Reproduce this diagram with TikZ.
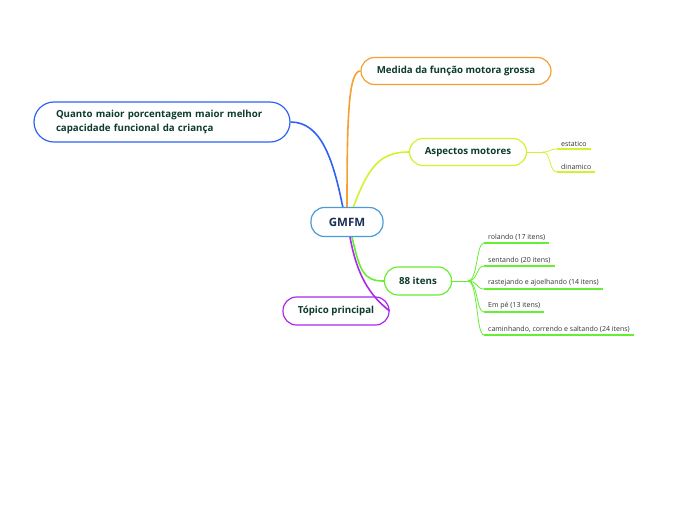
\documentclass[tikz,border=0pt]{standalone}
\usepackage{fontspec}
\setmainfont{Open Sans}
\begin{document}
\begin{tikzpicture}[x=1pt, y=-1pt,
    topic/.style={draw, fill=white, rounded corners=13.5pt, line width=1.2pt, minimum height=27pt, inner xsep=14pt, text=textColour, font=\bfseries\fontsize{9.7}{11}\selectfont},
    link/.style={line width=1.6pt},
    sublink/.style={line width=0.8pt},
    leaf/.style={anchor=south west, inner xsep=4pt, inner ysep=2.5pt, text=leafColour, font=\fontsize{7}{8}\selectfont}]

    \definecolor{textColour}{HTML}{0D3B2E}
    \definecolor{gmfmText}{HTML}{1A2E55}
    \definecolor{leafColour}{HTML}{333333}
    \definecolor{gmfmColour}{HTML}{4A9BD8}
    \definecolor{blueColour}{HTML}{2E62F5}
    \definecolor{orangeColour}{HTML}{F5A030}
    \definecolor{yellowColour}{HTML}{D2F22E}
    \definecolor{greenColour}{HTML}{66EE33}
    \definecolor{purpleColour}{HTML}{A82BE8}

    \useasboundingbox (0,0) rectangle (696,520);

    % Draw connectors from the main topic
    \coordinate (gb) at (343,208);
    \coordinate (go) at (347,208);
    \coordinate (gy) at (353,208);
    \coordinate (gg) at (352,237);
    \coordinate (gp) at (350,237);

    % Draw subtopics
    \node[topic, draw=orangeColour, minimum width=190pt] (medida) at (456,71) {Medida da função motora grossa};
    \node[topic, draw=blueColour, minimum height=40pt, rounded corners=20pt, text width=212pt, inner xsep=22pt, align=left, font=\bfseries\fontsize{9.7}{14}\selectfont] (quanto) at (162,122) {Quanto maior porcentagem maior melhor\\capacidade funcional da criança};
    \node[topic, draw=yellowColour, minimum width=117pt] (aspectos) at (468,152) {Aspectos motores};
    \node[topic, draw=greenColour, minimum width=67pt, minimum height=28pt] (itens) at (418,281) {88 itens};

    \draw[link, blueColour] (gb) .. controls +(-10,-50) and +(30,0) .. (quanto.east);
    \draw[link, orangeColour] (go) .. controls +(0,-90) and +(-12,0) .. (medida.west);
    \draw[link, yellowColour] (gy) .. controls +(15,-40) and +(-30,0) .. (aspectos.west);
    \draw[link, greenColour] (gg) .. controls +(8,35) and +(-20,0) .. (itens.west);

    \node[topic, draw=purpleColour, minimum width=106pt, minimum height=28pt] (topico) at (336,311) {Tópico principal};
    \draw[link, purpleColour] (gp) .. controls +(8,45) and +(-15,-12) .. (topico.east);

    % Draw main topic
    \node[topic, draw=gmfmColour, minimum width=72pt, minimum height=29pt, text=gmfmText, font=\bfseries\fontsize{11.5}{13}\selectfont] (gmfm) at (347,222) {GMFM};

    % Leaves of Aspectos motores
    \node[leaf] (estatico) at (557,149) {estatico};
    \node[leaf] (dinamico) at (557,172) {dinamico};
    \coordinate (aj) at (543,152);
    \draw[sublink, yellowColour] (aspectos.east) -- (aj);
    \foreach \l in {estatico, dinamico} {
        \draw[sublink, yellowColour] (aj) .. controls +(8,0) and +(-8,0) .. (\l.south west);
        \draw[link, yellowColour] (\l.south west) -- (\l.south east);
    }

    % Leaves of 88 itens
    \node[leaf] (rolando) at (484,243) {rolando (17 itens)};
    \node[leaf] (sentando) at (484,266) {sentando (20 itens)};
    \node[leaf] (rastejando) at (484,289) {rastejando e ajoelhando (14 itens)};
    \node[leaf] (empe) at (484,312) {Em pé (13 itens)};
    \node[leaf] (caminhando) at (484,335) {caminhando, correndo e saltando (24 itens)};
    \coordinate (ij) at (468,281);
    \draw[sublink, greenColour] (itens.east) -- (ij);
    \foreach \l in {rolando, sentando, rastejando, empe, caminhando} {
        \draw[sublink, greenColour] (ij) .. controls +(10,0) and +(-8,0) .. (\l.south west);
        \draw[link, greenColour] (\l.south west) -- (\l.south east);
    }

\end{tikzpicture}
\end{document}
